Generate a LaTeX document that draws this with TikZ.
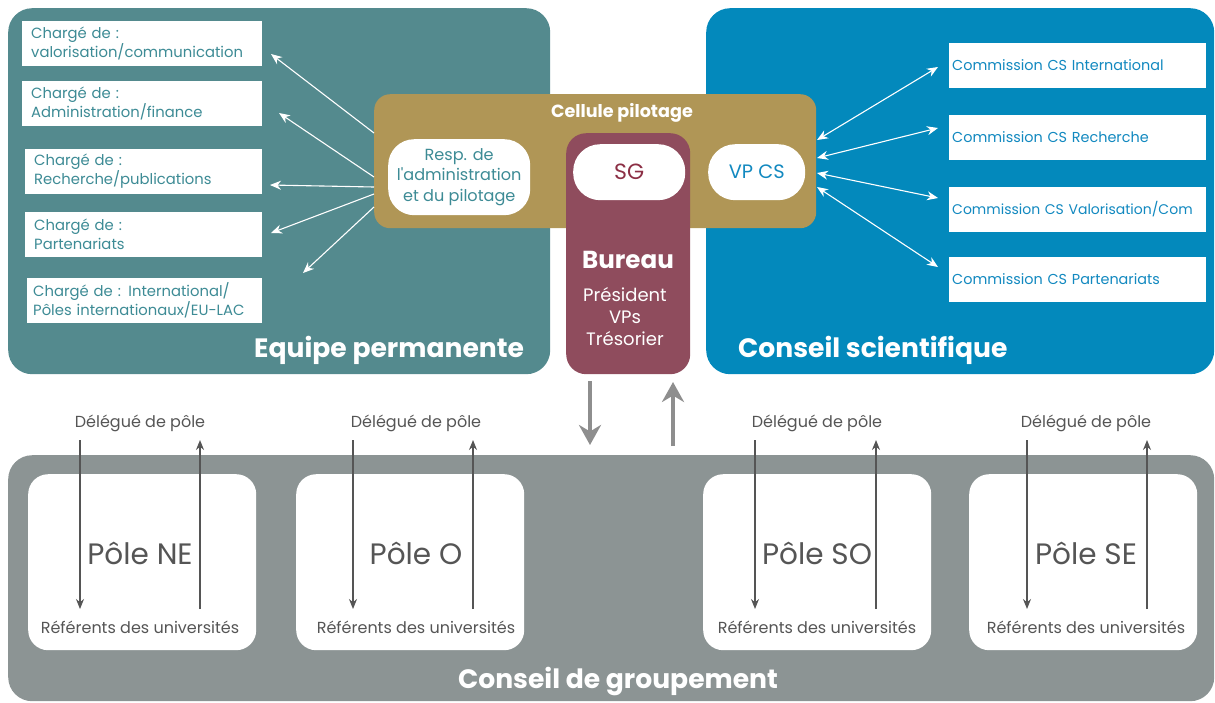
\documentclass[tikz,border=0pt]{standalone}
\usepackage{fontspec}
\setmainfont{Poppins}
\newfontfamily\popq{Poppins}
\usetikzlibrary{arrows.meta}
\definecolor{cEq}{HTML}{548A8E}
\definecolor{cCS}{HTML}{0389BC}
\definecolor{cGold}{HTML}{B09656}
\definecolor{cBur}{HTML}{8F4C5D}
\definecolor{cGrp}{HTML}{8C9494}
\definecolor{cTealTxt}{HTML}{3D8B95}
\definecolor{cBlueTxt}{HTML}{1289C0}
\definecolor{cSGTxt}{HTML}{8C2F45}
\definecolor{cPoleTxt}{HTML}{555555}
\definecolor{cBigArr}{HTML}{8E8E8E}
\begin{document}
\begin{tikzpicture}[x=1pt,y=-1pt,
  panel/.style={anchor=north west,inner sep=0pt,draw=none},
  wbox/.style={fill=white,anchor=west,minimum height=45pt,inner xsep=9pt,inner ysep=0pt,align=left,text=cTealTxt,font=\fontsize{14.8}{19}\selectfont},
  cbox/.style={fill=white,anchor=west,minimum height=45pt,text width=251pt,align=left,inner xsep=3pt,inner ysep=0pt,text=cBlueTxt,font=\fontsize{14.4}{19}\selectfont},
  title/.style={text=white,font=\fontsize{26.6}{30}\selectfont\bfseries,inner sep=0pt},
  polebox/.style={fill=white,anchor=north west,minimum width=228pt,minimum height=176pt,rounded corners=20pt,inner sep=0pt},
  polename/.style={text=cPoleTxt,font=\fontsize{29.5}{32}\selectfont,inner sep=0pt},
  polelbl/.style={text=cPoleTxt,font=\fontsize{16}{19}\selectfont,inner sep=0pt},
  warr/.style={draw=white,line width=1.1pt,-{Stealth[length=11pt,width=9pt]}},
  warr2/.style={draw=white,line width=1.1pt,{Stealth[length=11pt,width=9pt]}-{Stealth[length=11pt,width=9pt]}},
  parr/.style={draw=cPoleTxt,line width=1.3pt,-{Stealth[length=10pt,width=8pt]}},
  bigarr/.style={draw=cBigArr,line width=4pt,-{Stealth[length=20pt,width=22pt]}}
]
\useasboundingbox (0,0) rectangle (1215,702);

% panels
\node[panel,fill=cEq,minimum width=542pt,minimum height=366pt,rounded corners=24pt] (equipe) at (8,8) {};
\node[panel,fill=cCS,minimum width=508pt,minimum height=366pt,rounded corners=24pt] (cs) at (706,8) {};
\node[panel,fill=cGrp,minimum width=1206pt,minimum height=246pt,rounded corners=24pt] (grp) at (8,455) {};

\node[title,anchor=base west] (tEq) at (254,357) {Equipe permanente};
\node[title,anchor=base west] (tCS) at (738,357) {Conseil scientifique};
\node[title,anchor=base] (tGrp) at (618,688) {Conseil de groupement};

% cellule pilotage
\node[panel,fill=cGold,minimum width=442pt,minimum height=134pt,rounded corners=16pt] (cell) at (374,94) {};
\node[text=white,font=\fontsize{17.6}{20}\selectfont\bfseries,anchor=base,inner sep=0pt] (tCell) at (622,117) {Cellule pilotage};

% bureau
\node[panel,fill=cBur,minimum width=124pt,minimum height=241pt,rounded corners=20pt] (bur) at (566,133) {};
\node[text=white,font=\fontsize{24.6}{28}\selectfont\bfseries,anchor=base,inner sep=0pt] (tBur) at (628,268) {Bureau};
\node[text=white,font=\fontsize{18}{22}\selectfont,align=center,inner sep=0pt] (tBurM) at (625,317) {Président\\VPs\\Trésorier};

\node[panel,fill=white,minimum width=112pt,minimum height=56pt,rounded corners=27pt,text=cSGTxt,font=\fontsize{22}{26}\selectfont] (sg) at (573,144) {SG};
\node[panel,fill=white,minimum width=97pt,minimum height=56pt,rounded corners=27pt,text=cBlueTxt,font=\fontsize{19.4}{22}\selectfont] (vpcs) at (708,144) {VP CS};
\node[panel,fill=white,minimum width=142pt,minimum height=76pt,rounded corners=26pt,text=cTealTxt,align=center,font=\fontsize{16.1}{20.5}\selectfont] (resp) at (388,139) {Resp. de\\l{\popq'}administration\\et du pilotage};

% left boxes
\node[wbox,text width=222pt] (c1) at (22,43.5) {Chargé de :\\valorisation/communication};
\node[wbox,text width=222pt] (c2) at (22,103.5) {Chargé de :\\Administration/finance};
\node[wbox,text width=219pt] (c3) at (25,171.5) {Chargé de :\\Recherche/publications};
\node[wbox,text width=219pt] (c4) at (25,234.5) {Chargé de :\\Partenariats};
\node[wbox,inner xsep=6pt,text width=223pt] (c5) at (27,300.5) {Chargé de : International/\\Pôles internationaux/EU-LAC};

% commission boxes
\node[cbox] (k1) at (949,65.5) {\mbox{Commission CS International}};
\node[cbox] (k2) at (949,137) {\mbox{Commission CS Recherche}};
\node[cbox,font=\fontsize{14}{19}\selectfont] (k3) at (949,209.5) {\mbox{Commission CS Valorisation/Com}};
\node[cbox] (k4) at (949,279.5) {\mbox{Commission CS Partenariats}};

% arrow endpoints
\coordinate (l1s) at (374,133); \coordinate (l1e) at (271,54);
\coordinate (l2s) at (374,177); \coordinate (l2e) at (279,113);
\coordinate (l3s) at (374,187); \coordinate (l3e) at (270,185);
\coordinate (l4s) at (374,194); \coordinate (l4e) at (271,233);
\coordinate (l5s) at (374,207); \coordinate (l5e) at (303,273);
\draw[warr] (l1s) -- (l1e);
\draw[warr] (l2s) -- (l2e);
\draw[warr] (l3s) -- (l3e);
\draw[warr] (l4s) -- (l4e);
\draw[warr] (l5s) -- (l5e);

\coordinate (r1s) at (817,140); \coordinate (r1e) at (938,67);
\coordinate (r2s) at (817,158); \coordinate (r2e) at (938,128);
\coordinate (r3s) at (817,173); \coordinate (r3e) at (938,198);
\coordinate (r4s) at (817,187); \coordinate (r4e) at (938,267);
\draw[warr2] (r1s) -- (r1e);
\draw[warr2] (r2s) -- (r2e);
\draw[warr2] (r3s) -- (r3e);
\draw[warr2] (r4s) -- (r4e);

% big arrows
\coordinate (bdS) at (590,381); \coordinate (bdE) at (590,445);
\coordinate (buS) at (673,446); \coordinate (buE) at (673,382);
\draw[bigarr] (bdS) -- (bdE);
\draw[bigarr] (buS) -- (buE);

% poles
\node[polebox] (pNE) at (28,474) {};
\node[polebox] (pO) at (296,474) {};
\node[polebox] (pSO) at (703,474) {};
\node[polebox] (pSE) at (969,474) {};

\foreach \n/\nm/\cx/\dx/\ux in {pNE/Pôle NE/140/80/200, pO/Pôle O/416/353/473, pSO/Pôle SO/817/755/876, pSE/Pôle SE/1086/1027/1147}{
  \node[polelbl] (\n-del) at (\cx,423) {Délégué de pôle};
  \node[polelbl] (\n-ref) at (\cx,627) {Référents des universités};
  \node[polename] (\n-name) at (\cx,553) {\nm};
  \coordinate (\n-dtop) at (\dx,440); \coordinate (\n-dbot) at (\dx,609);
  \coordinate (\n-utop) at (\ux,440); \coordinate (\n-ubot) at (\ux,609);
  \draw[parr] (\n-dtop) -- (\n-dbot);
  \draw[parr] (\n-ubot) -- (\n-utop);
}
\end{tikzpicture}
\end{document}
